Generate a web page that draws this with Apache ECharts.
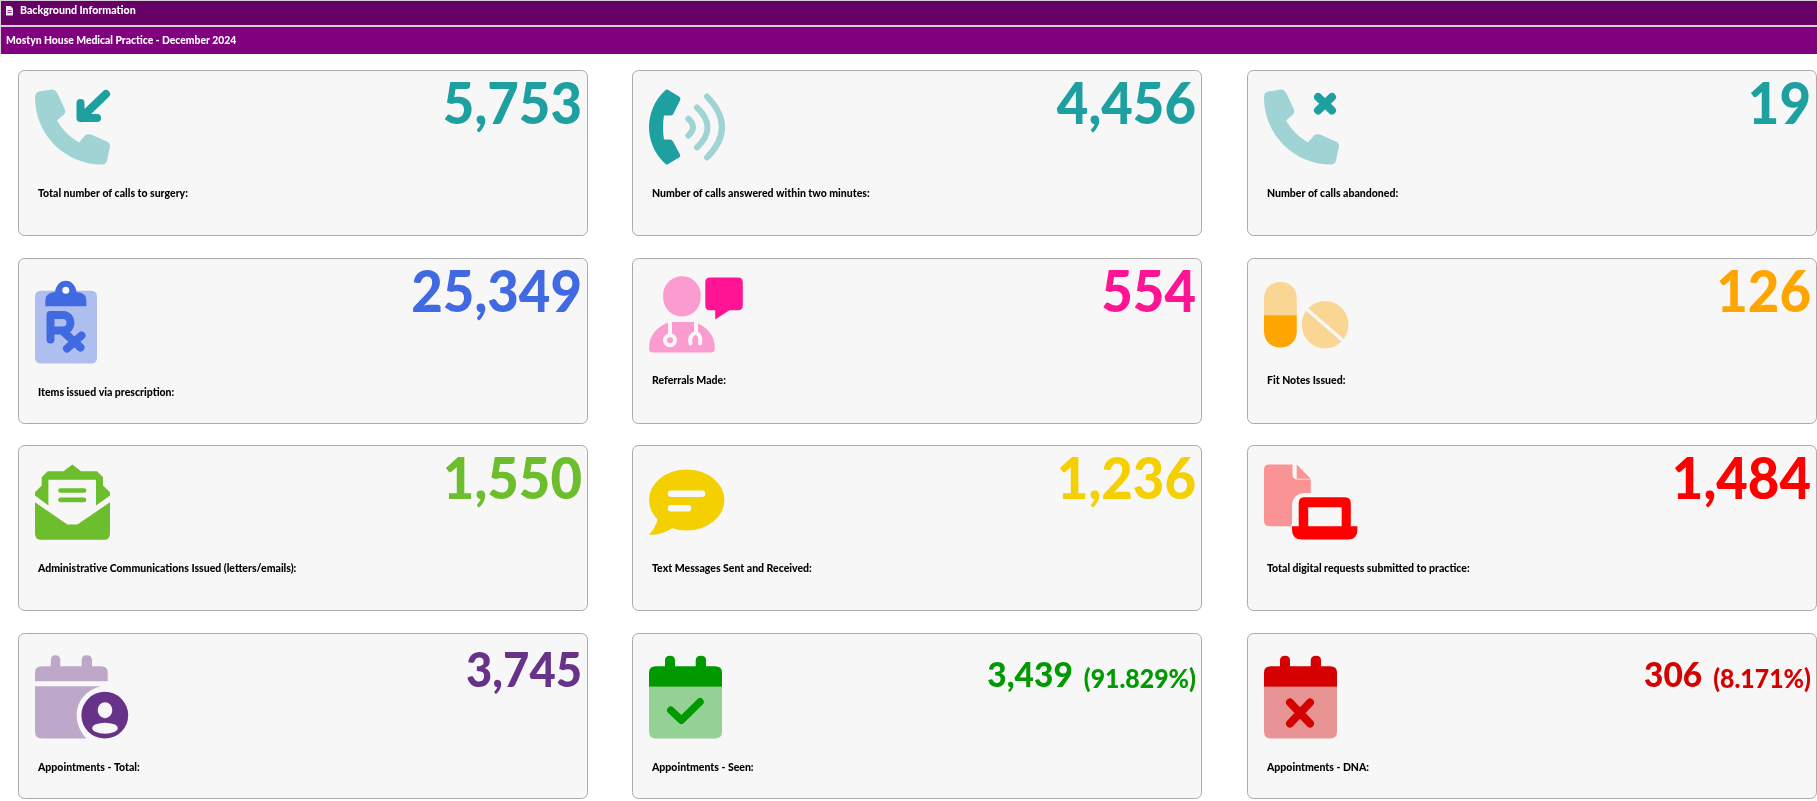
<!DOCTYPE html>
<html>
<head>
<meta charset="utf-8">
<title>Background Information</title>
<script src="https://cdn.jsdelivr.net/npm/echarts@6/dist/echarts.min.js"></script>
<style>
  html, body { margin: 0; padding: 0; background: #fff; }
  #chart { width: 1817px; height: 801px; }
</style>
</head>
<body>
<div id="chart"></div>
<script>
// data
const pageTitle = 'Background Information';
const practiceTitle = 'Mostyn House Medical Practice - December 2024';
const metricLabels = [
  'Total number of calls to surgery:',
  'Number of calls answered within two minutes:',
  'Number of calls abandoned:',
  'Items issued via prescription:',
  'Referrals Made:',
  'Fit Notes Issued:',
  'Administrative Communications Issued (letters/emails):',
  'Text Messages Sent and Received:',
  'Total digital requests submitted to practice:',
  'Appointments - Total:',
  'Appointments - Seen:',
  'Appointments - DNA:'
];
const metricValues = [5753, 4456, 19, 25349, 554, 126, 1550, 1236, 1484, 3745, 3439, 306];
const metricShares = [null, null, null, null, null, null, null, null, null, null, 91.829, 8.171];

// styles, one per card
const metricColors = ['#1FA0A0', '#1FA0A0', '#1FA0A0', '#4169E1', '#FF1493', '#FFA500',
  '#6DBE2D', '#F5D000', '#FF0000', '#663388', '#009900', '#D50000'];
const valueSizes = [57, 57, 57, 57, 57, 57, 57, 57, 57, 47.5, 35, 35];
const labelTops = [123.5, 123.5, 123.5, 134.5, 122.5, 122.5, 123.5, 123.5, 123.5, 134.5, 134.5, 134.5];
const iconNames = ['callIn', 'callWaves', 'callMissed', 'script', 'doctor', 'pills',
  'mail', 'speech', 'digital', 'calUser', 'calSeen', 'calDna'];

const CARD_BG = '#F7F7F7';
const NARROW = 0.955; // the reference digits are narrower than Lato
const PHONE = 'M0 8Q0 3 4 2L17 0Q20 0 22 3L30 20Q31 23 29 25L22 31Q30 45 44 53L50 46Q52 44 56 45L72 52Q75 53 75 57L72 71Q71 75 67 75C30 75 0 45 0 8Z';
const CAL_TOP = 'M0 34.3V20Q0 13.7 7 13.7H16V8Q16 3.3 21 3.3T26 8V13.7H46.7V8Q46.7 3.3 52 3.3T57 8V13.7H66Q73 13.7 73 20V34.3Z';
const CAL_BOTTOM = 'M0 34.3H73V79Q73 86 66 86H7Q0 86 0 79Z';

// icon parts in pixels from the icon corner. tone: dark, light or bg, width means stroked
const icons = {
  callIn: [
    { d: PHONE, tone: 'light' },
    { d: 'M71 4.5L46 28.5M45.5 13.5V28.5H62', tone: 'dark', width: 8 }
  ],
  callWaves: [
    { d: 'M18 0Q19 0 20 1L30 7Q32 8 31 11L24 25Q23 26 21 26L15 26Q13 38 15 50L21 50Q23 50 24 52L31 65Q32 67 30 68L20 74Q18 76 16 74C5 64 0 50 0 38C0 25 5 11 16 1Q17 0 18 0Z', tone: 'dark' },
    { d: 'M58 7Q88 38 58 68', tone: 'light', width: 6 },
    { d: 'M48 18Q69 38 48 58', tone: 'light', width: 6 },
    { d: 'M39.4 29.3Q48.6 38 39.4 46', tone: 'light', width: 6 }
  ],
  callMissed: [
    { d: PHONE, tone: 'light' },
    { d: 'M54 7.5L68 21M68 7.5L54 21', tone: 'dark', width: 8 }
  ],
  script: [
    { d: 'M6 13.3H56Q62 13.3 62 19.3V80Q62 86 56 86H6Q0 86 0 80V19.3Q0 13.3 6 13.3Z', tone: 'light' },
    { d: 'M10.3 28.7V23Q10.3 15 20 14.5C21 8 25 3.3 30.8 3.3S40.5 8 41.5 14.5Q51.4 15 51.4 23V28.7Z', tone: 'dark' },
    { d: 'M27.3 12.7a3.5 3.5 0 1 1 7 0a3.5 3.5 0 1 1 -7 0Z', tone: 'bg' },
    { d: 'M15.5 62V37.5H28C38 37.5 38 53 28 53H15.5M27 53L45.5 70M46.5 58L32 71', tone: 'dark', width: 8 }
  ],
  doctor: [
    { d: 'M14.2 18.8a18.8 18.8 0 1 1 37.5 0a18.8 18.8 0 1 1 -37.5 0Z', tone: 'light' },
    { d: 'M61 0H89Q93.8 0 93.8 5V28Q93.8 32.7 89 32.7H80.4L66.2 42V32.7H61Q56.3 32.7 56.3 28V5Q56.3 0 61 0Z', tone: 'dark' },
    { d: 'M0 71C0 57 8 49 21 44.5H45C58 49 65.8 57 65.8 71Q65.8 75 62 75H4Q0 75 0 71Z', tone: 'light' },
    { d: 'M21 45V57M16 62.7a5 5 0 1 1 10 0a5 5 0 1 1 -10 0ZM47 45V55Q52.5 58 51 66M41.5 66Q39.5 58 47 55', tone: 'bg', width: 4 }
  ],
  pills: [
    { d: 'M0 37.7V20.7C0 -1 32.8 -1 32.8 20.7V37.7Z', tone: 'light' },
    { d: 'M0 37.7H32.8V53.7C32.8 75.5 0 75.5 0 53.7Z', tone: 'dark' },
    { d: 'M37.7 47.2a23.4 23.8 0 1 1 46.8 0a23.4 23.8 0 1 1 -46.8 0Z', tone: 'light' },
    { d: 'M44 32.7L78.5 62.7', tone: 'bg', width: 3.5 }
  ],
  mail: [
    { d: 'M37.4 0L46 6.7H62L68 12.7V21L75 27.7V31L61 41V15.3H13.4V41L0 31V27.7L6.7 21V12.7L12.7 6.7H28.5Z', tone: 'dark' },
    { d: 'M0 37.7L32.4 60H42.3L75 37.7V69Q75 75.3 69 75.3H6Q0 75.3 0 69Z', tone: 'dark' },
    { d: 'M25.5 26H49M25.5 35.3H49', tone: 'dark', width: 4.7 }
  ],
  speech: [
    { d: 'M0 35.5a37.7 30.5 0 1 1 75.4 0a37.7 30.5 0 1 1 -75.4 0Z', tone: 'dark' },
    { d: 'M9 52C8 60 4 66 0 70C8 71 17 68 24 63Z', tone: 'dark' },
    { d: 'M22 29.3H53M22 43.7H39', tone: 'bg', width: 6.5 }
  ],
  digital: [
    { d: 'M5 0H28.5V10Q28.5 15 34 15H46.8V28.5H40Q28 30 28 42V58L27 61.7H5Q0 61.7 0 56V5Q0 0 5 0Z', tone: 'light' },
    { d: 'M32.7 0L46.8 14.3H32.7Z', tone: 'light' },
    { d: 'M40 32.7H81Q86.8 32.7 86.8 38.7V61.7H93.4V65Q93.4 75 84 75H38Q28 75 28 65V61.7H34.7V38.7Q34.7 32.7 40 32.7ZM44.2 42.7V61.7H77.7V42.7Z', tone: 'dark' }
  ],
  calUser: [
    { d: 'M0 28.7V20Q0 13.7 7 13.7H15.8V8Q15.8 2.7 20.5 2.7T25.3 8V13.7H46.6V8Q46.6 2.7 51.8 2.7T57 8V13.7H66Q72.7 13.7 72.7 20V28.7Z', tone: 'light' },
    { d: 'M0 33.7H66C52 37 41.7 48 41.7 62.7C41.7 72 46 80 51.4 86H7Q0 86 0 79Z', tone: 'light' },
    { d: 'M46.4 62.7a23.4 23.4 0 1 1 46.8 0a23.4 23.4 0 1 1 -46.8 0Z', tone: 'dark' },
    { d: 'M62.7 57.7a7.3 8 0 1 1 14.6 0a7.3 8 0 1 1 -14.6 0ZM57.2 75.7a12.8 5.5 0 1 1 25.6 0a12.8 5.5 0 1 1 -25.6 0Z', tone: 'bg' }
  ],
  calSeen: [
    { d: CAL_TOP, tone: 'dark' },
    { d: CAL_BOTTOM, tone: 'light' },
    { d: 'M21.8 57.7L32.5 67.7L51 49.3', tone: 'dark', width: 7.5 }
  ],
  calDna: [
    { d: CAL_TOP, tone: 'dark' },
    { d: CAL_BOTTOM, tone: 'light' },
    { d: 'M26 50L46 71M46 50L26 71', tone: 'dark', width: 8 }
  ]
};

const measure = document.createElement('canvas').getContext('2d');
function textWidth(text, font) {
  measure.font = font;
  return measure.measureText(text).width;
}

function iconPart(part, color) {
  const tone = part.tone === 'bg' ? CARD_BG : color;
  const style = part.width
    ? { fill: 'none', stroke: tone, lineWidth: part.width, lineCap: 'round', lineJoin: 'round' }
    : { fill: tone };
  if (part.tone === 'light') style.opacity = 0.4;
  return { type: 'path', shape: { pathData: part.d }, style: style };
}

function bigText(text, right, size, color) {
  return {
    type: 'text',
    x: right,
    y: 54.5 - size * 0.34,
    scaleX: NARROW,
    style: {
      text: text,
      x: 0,
      y: 0,
      fill: color,
      font: '900 ' + size + 'px Lato',
      align: 'right',
      verticalAlign: 'middle'
    }
  };
}

function renderCard(params, api) {
  const i = params.dataIndex;
  const pt = api.coord([api.value(0), api.value(1)]);
  const color = metricColors[i];
  const size = valueSizes[i];
  const right = 563.5;
  const children = [
    {
      type: 'rect',
      shape: { x: 0, y: 0, width: 569, height: 165, r: 6 },
      style: { fill: CARD_BG, stroke: '#AAAAAA', lineWidth: 1 }
    },
    { type: 'group', x: 16.5, y: 19, children: icons[iconNames[i]].map(p => iconPart(p, color)) },
    {
      type: 'text',
      style: {
        text: metricLabels[i],
        x: 19.5,
        y: labelTops[i],
        fill: '#000',
        font: '900 10.5px Lato',
        align: 'left',
        verticalAlign: 'middle'
      }
    }
  ];
  const valueText = api.value(2).toLocaleString('en-GB');
  if (metricShares[i] != null) {
    const shareText = '(' + metricShares[i] + '%)';
    const shareSize = 26;
    children.push(bigText(shareText, right, shareSize, color));
    const shareW = textWidth(shareText, '900 ' + shareSize + 'px Lato') * NARROW;
    children.push(bigText(valueText, right - shareW - 11, size, color));
  } else {
    children.push(bigText(valueText, right, size, color));
  }
  return { type: 'group', x: Math.floor(pt[0]) + 0.5, y: Math.round(pt[1]) + 0.5, children: children };
}

const chart = echarts.init(document.getElementById('chart'));
chart.setOption({
  animation: false,
  backgroundColor: '#fff',
  // one column and row per card, the corner of each card sits on the grid
  grid: { left: 18, right: 570, top: 70, bottom: 168 },
  xAxis: { type: 'value', min: 0, max: 2, show: false },
  yAxis: { type: 'value', min: 0, max: 3, inverse: true, show: false },
  graphic: [
    { type: 'rect', shape: { x: 0, y: 0, width: 1817, height: 54 }, style: { fill: '#D8D0D8' }, silent: true },
    { type: 'rect', shape: { x: 1, y: 1, width: 1816, height: 24 }, style: { fill: '#660066' }, silent: true },
    { type: 'rect', shape: { x: 1, y: 27, width: 1816, height: 27 }, style: { fill: '#800080' }, silent: true },
    {
      type: 'polygon',
      shape: { points: [[6, 6], [10.5, 6], [13, 8.5], [13, 15.5], [6, 15.5]] },
      style: { fill: '#F4E8F4' },
      silent: true
    },
    { type: 'line', shape: { x1: 7.5, y1: 10.5, x2: 11.5, y2: 10.5 }, style: { stroke: '#660066', lineWidth: 0.7 }, silent: true },
    { type: 'line', shape: { x1: 7.5, y1: 12.5, x2: 11.5, y2: 12.5 }, style: { stroke: '#660066', lineWidth: 0.7 }, silent: true },
    {
      type: 'text', x: 20, y: 11,
      style: { text: pageTitle, fill: '#fff', font: '900 10.6px Lato', verticalAlign: 'middle' },
      silent: true
    },
    {
      type: 'text', x: 6, y: 41,
      style: { text: practiceTitle, fill: '#fff', font: '900 10.35px Lato', verticalAlign: 'middle' },
      silent: true
    }
  ],
  series: [{
    type: 'custom',
    coordinateSystem: 'cartesian2d',
    clip: false,
    silent: true,
    encode: { x: 0, y: 1 },
    data: metricValues.map((v, i) => [i % 3, Math.floor(i / 3), v]),
    renderItem: renderCard
  }]
});
</script>
</body>
</html>
